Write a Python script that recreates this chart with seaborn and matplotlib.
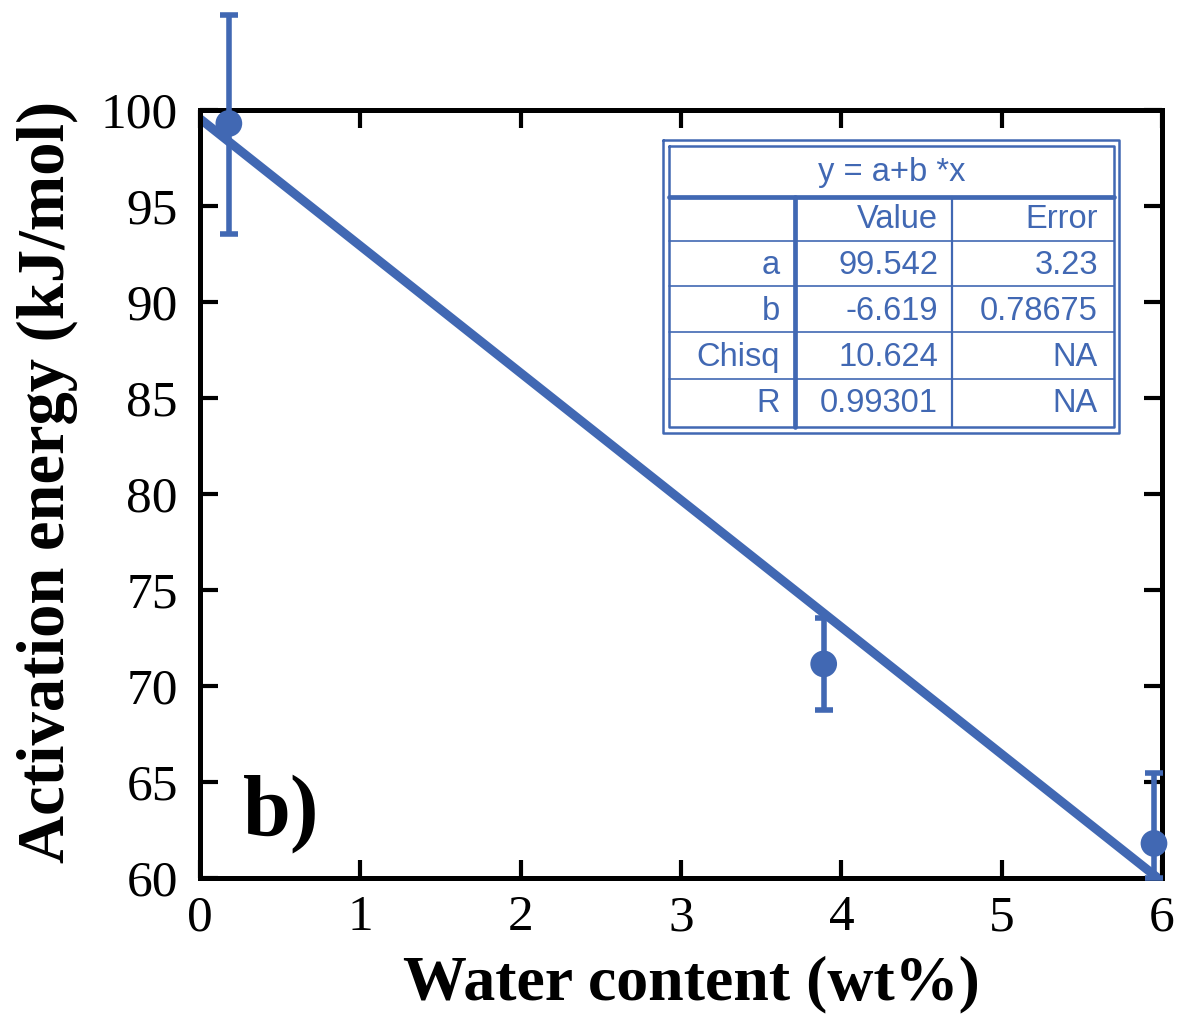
import numpy as np
import pandas as pd
import matplotlib
matplotlib.use("Agg")
import matplotlib.pyplot as plt
import seaborn as sns

# data
water = [0.18, 3.89, 5.95]
energy = [99.3, 71.15, 61.8]
err_low = [5.75, 2.4, 1.8]
err_high = [5.65, 2.4, 3.65]

# linear fit y = a + b*x
fit_a = 99.542
fit_b = -6.619
fit_x = [0, 6]

table_title = "y = a+b *x"
table_head = ["", "Value", "Error"]
table_rows = [
    ["a", "99.542", "3.23"],
    ["b", "-6.619", "0.78675"],
    ["Chisq", "10.624", "NA"],
    ["R", "0.99301", "NA"],
]

blue = "#4168B3"

sns.set_theme(style="ticks")
plt.rcParams['font.family'] = ['Liberation Serif', 'DejaVu Serif']
plt.rcParams['text.color'] = 'black'
plt.rcParams['axes.labelcolor'] = 'black'

W, H = 1186, 1021
fig = plt.figure(figsize=(W / 100, H / 100), dpi=100)
ax = fig.add_axes([200 / W, 1 - 878 / H, 962 / W, 768 / H])

frame = pd.DataFrame({"water": water, "energy": energy})
line = pd.DataFrame({"x": fit_x, "y": [fit_a + fit_b * x for x in fit_x]})

sns.lineplot(data=line, x="x", y="y", ax=ax, color=blue, lw=6.5, zorder=2)
ax.errorbar(water, energy, yerr=[err_low, err_high], fmt="none", ecolor=blue,
            elinewidth=4, capsize=6.5, capthick=4, clip_on=False, zorder=3)
sns.scatterplot(data=frame, x="water", y="energy", ax=ax, color=blue, s=370,
                edgecolor="none", zorder=4, clip_on=False)

ax.set_xlim(0, 6)
ax.set_ylim(60, 100)
ax.set_xticks(range(0, 7))
ax.set_yticks(range(60, 101, 5))
ax.tick_params(direction="in", length=13, width=3, labelsize=37, top=True, right=True,
               color="black", labelcolor="black")
ax.tick_params(axis="y", pad=16)
ax.tick_params(axis="x", pad=12)
for s in ax.spines.values():
    s.set_linewidth(3.6)
    s.set_color("black")

ax.set_xlabel("Water content (wt%)", fontsize=46, fontweight="bold")
ax.set_ylabel("Activation energy (kJ/mol)", fontsize=48, fontweight="bold")
ax.xaxis.set_label_coords(0.511, -0.139, transform=ax.transAxes)
ax.yaxis.set_label_coords(-0.159, 0.516, transform=ax.transAxes)
ax.xaxis.label.set(va="center", ha="center")
ax.yaxis.label.set(va="center", ha="center", rotation_mode="anchor")
ax.text(0.27, 61.3, "b)", fontsize=62, fontweight="bold", va="bottom", ha="left")

# fit result table, drawn in pixel units on an overlay axes
tb = fig.add_axes([0, 0, 1, 1], facecolor="none")
tb.set_xlim(0, W)
tb.set_ylim(H, 0)
tb.axis("off")
tb.plot([663, 1119, 1119, 663, 663], [140, 140, 433, 433, 140], color=blue, lw=1.8)
tb.plot([669, 1114, 1114, 669, 669], [146, 146, 427, 427, 146], color=blue, lw=1.8)
tb.plot([669, 1114], [197, 197], color=blue, lw=3.4)
tb.plot([795, 795], [197, 427], color=blue, lw=3.4)
tb.plot([952, 952], [197, 427], color=blue, lw=1.6)
for yy in [241, 286, 332, 379]:
    tb.plot([669, 1114], [yy, yy], color=blue, lw=1.2)

sans = ['Liberation Sans', 'DejaVu Sans']
tb.text(892, 172, table_title, color=blue, fontsize=23.5, family=sans, ha="center", va="center")
col_right = [780, 938, 1098]
row_mid = [219, 265, 311, 357, 403]
for r, row in enumerate([table_head] + table_rows):
    for c, txt in enumerate(row):
        tb.text(col_right[c], row_mid[r], txt, color=blue, fontsize=23.5, family=sans,
                ha="right", va="center")

fig.savefig("out.png", dpi=100)
